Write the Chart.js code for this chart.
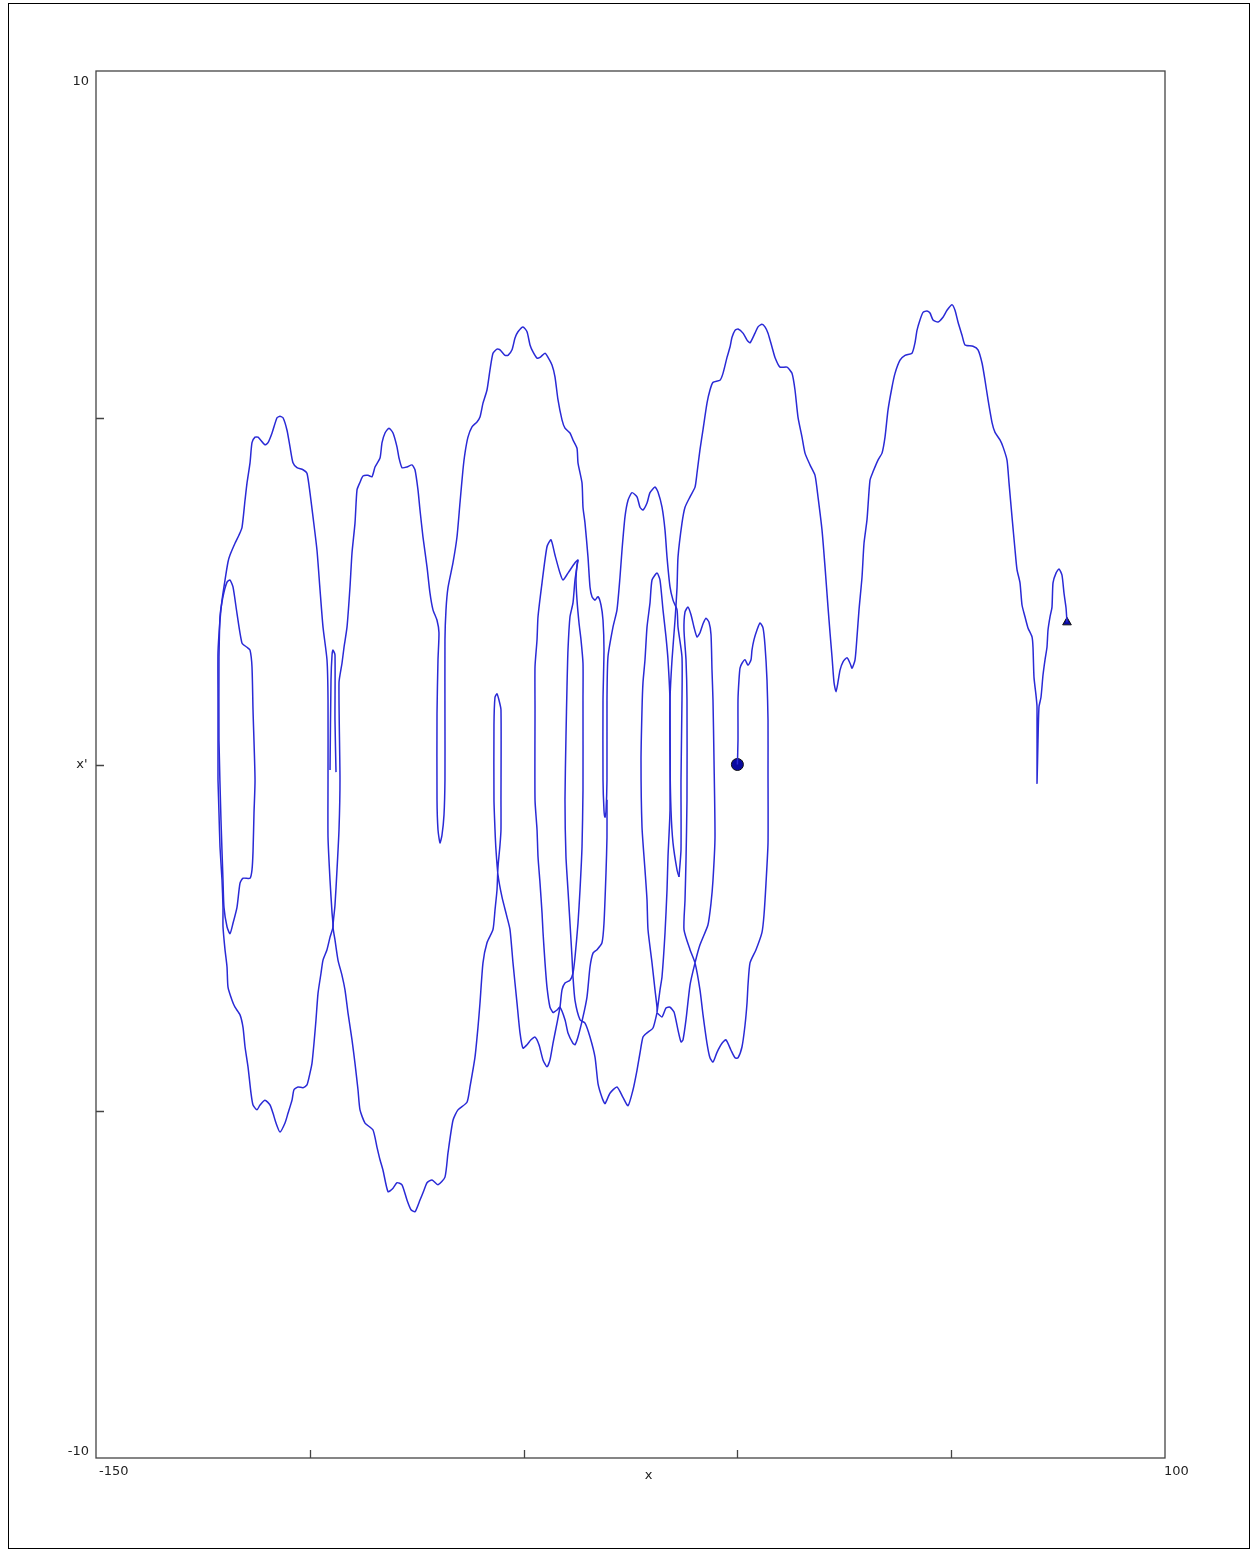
<!DOCTYPE html>
<html><head><meta charset="utf-8">
<script src="https://cdn.jsdelivr.net/npm/chart.js@4.4.0/dist/chart.umd.min.js"></script>
<style>html,body{margin:0;background:#fff}#wrap{width:1254px;height:1552px;position:relative}</style>
</head><body><div id="wrap"><canvas id="c"></canvas></div>
<script>
// trajectory pieces as [x, x'] pairs
const startLoop = [[0,0],[0.14,0.35],[0.14,0.93],[0.37,1.22],[0.61,1.39],[1.08,1.46],[1.78,1.51],[2.48,1.43],[3.18,1.51],[3.41,1.65],[3.88,1.8],[4.58,1.94],[5.29,2.04],[5.99,1.97],[6.45,1.72],[6.92,1.22],[7.16,0.64],[7.16,-0.08],[7.16,-1.13],[6.69,-1.71],[6.22,-2.17],[5.75,-2.42],[4.35,-2.67],[2.95,-2.86],[2.48,-3.18],[2.25,-3.44],[1.78,-3.76],[1.08,-4.07],[0.14,-4.23],[-0.56,-4.23],[-1.5,-4.12],[-2.67,-3.97],[-3.6,-4.02],[-4.77,-4.15],[-5.71,-4.29],[-6.41,-4.23],[-7.11,-4.02],[-8.04,-3.61],[-8.75,-3.25],[-9.91,-2.86],[-11.08,-2.67],[-12.49,-2.38],[-12.25,-1.95],[-12.02,-1.38],[-11.79,-0.51],[-11.79,0.93],[-12.02,1.51],[-12.49,1.94],[-12.25,2.2],[-11.55,2.27],[-10.85,2.16],[-10.15,1.98],[-9.45,1.84],[-8.75,1.9],[-8.04,2.03],[-7.34,2.11],[-6.64,2.05],[-6.17,1.87],[-5.94,1.36],[-5.71,0.93],[-5.47,0.06],[-5.24,-1.05],[-5.71,-1.67],[-6.17,-2.0],[-6.88,-2.31],[-8.75,-2.6],[-9.91,-2.86],[-11.08,-3.18],[-12.02,-3.68],[-12.72,-3.97],[-13.19,-4.0],[-13.89,-3.83],[-14.82,-3.57],[-15.76,-3.5],[-16.7,-3.51],[-17.63,-3.64],[-18.8,-3.58]];

const innerLoop = [[-18.8,-3.58],[-18.1,-3.25],[-17.63,-3.06],[-16.93,-2.43],[-16.46,-1.81],[-16.23,-1.33],[-15.76,-0.66],[-15.76,0.89],[-16.23,1.51],[-16.7,1.84],[-17.4,2.23],[-18.1,2.66],[-18.8,2.76],[-19.97,2.66],[-20.44,2.33],[-21.14,1.98],[-21.61,1.51],[-22.08,1.18],[-22.31,0.79],[-22.54,0.06],[-22.31,-0.9],[-21.61,-1.52],[-21.14,-1.95],[-20.91,-2.38],[-19.97,-2.86],[-19.27,-3.25],[-18.8,-3.5],[-18.8,-3.58]];

const lowerLoop = [[-37.28,2.95],[-37.98,2.66],[-38.45,2.33],[-39.15,2.13],[-39.62,1.65],[-39.85,1.12],[-40.09,0.4],[-40.32,-0.51],[-40.09,-1.33],[-39.62,-1.81],[-39.15,-2.29],[-38.68,-2.78],[-38.45,-3.06],[-37.98,-3.4],[-36.81,-3.68],[-35.64,-3.73],[-34.47,-3.93],[-33.3,-4.22],[-32.6,-4.6],[-31.67,-4.8],[-30.97,-4.89],[-29.8,-4.74],[-28.16,-4.65],[-26.76,-4.8],[-25.58,-4.92],[-24.41,-4.69],[-23.48,-4.41],[-22.78,-4.16],[-22.08,-3.93],[-21.14,-3.87],[-19.74,-3.8],[-18.8,-3.58]];

const lowerHook = [[-43.13,-3.58],[-42.19,-3.54],[-41.49,-3.5],[-40.32,-3.68],[-39.62,-3.87],[-38.45,-4.02],[-37.98,-4.04],[-37.28,-3.93],[-36.11,-3.64],[-35.17,-3.35],[-34.47,-2.92],[-33.77,-2.72],[-32.83,-2.67],[-31.67,-2.57],[-31.2,-2.29],[-30.73,-1.56],[-30.5,-1.05],[-30.5,-0.51]];

const rightArcs = [[-13.66,-1.62],[-14.12,-1.52],[-15.06,-1.13],[-15.53,-0.66],[-15.76,0.06],[-15.76,0.93],[-15.29,1.51],[-14.59,2.08],[-14.12,2.55],[-13.89,2.99],[-12.96,3.48],[-12.25,3.71],[-11.08,3.86],[-9.91,4.0],[-9.45,4.2],[-8.75,4.54],[-8.04,4.83],[-7.11,5.21],[-6.41,5.4],[-5.71,5.51],[-4.07,5.54],[-3.37,5.64],[-2.43,5.87],[-1.73,6.02],[-1.26,6.16],[-0.56,6.26],[0.14,6.28],[1.31,6.22],[2.25,6.12],[2.95,6.08],[4.12,6.22],[4.82,6.31],[5.75,6.35],[6.45,6.31],[7.16,6.22],[8.09,6.02],[8.79,5.87],[9.96,5.73],[11.6,5.73],[12.77,5.64],[13.47,5.4],[14.17,5.01],[15.11,4.72],[15.81,4.49],[16.98,4.32],[18.15,4.17],[18.85,3.86],[19.79,3.38],[20.49,2.85],[21.19,2.27],[21.66,1.9],[22.13,1.55],[22.6,1.18],[23.06,1.05],[23.53,1.19],[24.0,1.36],[24.7,1.48],[25.64,1.54],[26.34,1.46],[26.81,1.39],[27.51,1.51],[27.97,1.84],[28.44,2.23],[29.14,2.7],[29.61,3.19],[30.31,3.53],[31.01,4.1],[31.71,4.22],[32.88,4.39],[33.82,4.49],[34.52,4.72],[35.22,5.11],[36.15,5.44],[36.86,5.64],[38.03,5.83],[39.2,5.9],[40.83,5.93],[41.53,6.08],[42.0,6.26],[42.7,6.41],[43.41,6.52],[44.34,6.54],[45.04,6.51],[45.75,6.41],[46.92,6.38],[48.08,6.45],[49.02,6.55],[50.19,6.63],[50.89,6.55],[51.59,6.38],[52.53,6.19],[53.23,6.05],[55.1,6.03],[56.27,5.98],[57.21,5.79],[57.91,5.54],[58.61,5.26],[59.55,4.93],[60.25,4.79],[61.41,4.68],[62.12,4.58],[63.05,4.39],[63.52,4.06],[64.22,3.57],[64.92,3.1],[65.39,2.81],[66.09,2.62],[66.56,2.3],[67.26,2.13],[67.96,1.97],[68.9,1.84],[69.13,1.69],[69.36,1.26],[69.83,1.0],[70.07,0.83],[70.07,-0.27],[70.3,0.35],[70.53,0.83],[71.0,0.97],[71.47,1.29],[71.94,1.51],[72.4,1.69],[72.64,1.94],[73.11,2.13],[73.57,2.27],[73.81,2.62],[74.51,2.76],[75.21,2.82],[75.91,2.73],[76.38,2.47],[76.85,2.26],[77.08,2.05]];

const middleChain = [[-13.66,-1.62],[-13.19,-1.23],[-13.19,-0.22],[-12.96,0.93],[-12.96,1.55],[-13.89,1.98],[-14.12,2.23],[-15.06,2.37],[-15.76,2.56],[-16.46,2.99],[-16.93,3.38],[-17.63,3.71],[-18.57,3.93],[-19.27,4.0],[-20.44,3.92],[-21.14,3.77],[-22.08,3.67],[-22.78,3.71],[-23.48,3.86],[-24.65,3.92],[-25.58,3.81],[-26.29,3.57],[-26.99,3.09],[-27.46,2.7],[-28.16,2.23],[-29.1,1.98],[-30.27,1.55],[-30.5,0.93],[-30.5,-0.22],[-30.73,-0.68],[-30.97,-0.76],[-31.2,-0.66],[-31.43,-0.22],[-31.43,0.93],[-31.2,1.65],[-31.43,2.08],[-31.9,2.3],[-32.6,2.42],[-33.3,2.37],[-34.0,2.42],[-34.47,2.56],[-34.94,2.99],[-35.64,3.48],[-36.11,3.71],[-36.34,4.06],[-37.28,4.35],[-37.51,4.56],[-38.45,4.68],[-39.15,4.78],[-40.32,4.85],[-41.02,4.97],[-41.96,5.26],[-42.66,5.59],[-43.36,5.76],[-44.29,5.87],[-44.99,5.93],[-46.16,5.87],[-46.86,5.86],[-47.8,5.95],[-48.5,6.05],[-49.2,6.24],[-50.14,6.31],[-51.31,6.24],[-52.01,6.15],[-52.71,5.98],[-53.65,5.9],[-54.35,5.9],[-55.52,5.98],[-56.22,5.99],[-57.16,5.93],[-57.86,5.69],[-58.56,5.4],[-59.5,5.21],[-60.2,5.01],[-60.9,4.94],[-62.07,4.87],[-63.01,4.72],[-63.71,4.49],[-64.18,4.25],[-64.88,3.77],[-65.58,3.28],[-66.51,2.91],[-67.68,2.55],[-68.15,2.23],[-68.39,1.8],[-68.39,0.64],[-68.39,-0.22],[-68.62,-0.73],[-69.09,-1.02],[-69.56,-1.13],[-70.02,-0.94],[-70.25,-0.51],[-70.25,0.74],[-70.02,1.51],[-69.79,1.9],[-70.25,2.08],[-71.19,2.23],[-71.89,2.47],[-72.59,2.85],[-73.53,3.28],[-74.23,3.67],[-74.7,3.96],[-75.4,4.25],[-76.1,4.32],[-77.27,4.29],[-78.44,4.28],[-79.14,4.42],[-79.61,4.58],[-80.54,4.78],[-81.48,4.85],[-82.41,4.78],[-83.11,4.64],[-83.58,4.42],[-84.75,4.29],[-85.45,4.15],[-86.39,4.17],[-87.56,4.16],[-88.26,4.07],[-88.96,3.96],[-89.43,3.48],[-90.13,3.05],[-90.6,2.56],[-91.3,1.98],[-92.0,1.69],[-92.47,1.46],[-93.17,1.18],[-92.94,-0.22],[-93.17,-0.94],[-93.64,-1.52],[-94.11,-2.03],[-94.57,-2.34],[-94.11,-2.53],[-93.41,-2.82],[-92.47,-3.04],[-91.77,-3.25],[-91.07,-3.58],[-90.13,-3.97],[-89.43,-4.31],[-88.73,-4.69],[-88.26,-4.98],[-87.09,-5.17],[-85.22,-5.27],[-84.28,-5.52],[-83.58,-5.7],[-82.88,-5.85],[-81.71,-6.16],[-80.54,-6.11],[-79.61,-6.03],[-78.44,-6.06],[-77.27,-6.28],[-76.33,-6.42],[-75.4,-6.45],[-74.23,-6.28],[-73.3,-6.14],[-72.59,-6.03],[-71.42,-5.99],[-70.02,-6.06],[-68.39,-5.95],[-67.68,-5.6],[-66.51,-5.13],[-65.35,-4.98],[-63.24,-4.87],[-62.54,-4.65],[-61.37,-4.22],[-60.67,-3.79],[-60.2,-3.44],[-59.5,-2.86],[-58.56,-2.57],[-57.16,-2.38],[-56.69,-2.1],[-56.22,-1.81],[-55.99,-1.48],[-55.52,-1.16],[-55.29,-0.94],[-55.29,-0.51],[-55.29,0.79],[-55.76,0.93],[-56.22,1.02],[-56.69,0.97],[-56.93,0.57],[-56.93,-0.51],[-56.69,-0.94],[-56.46,-1.23],[-55.99,-1.59],[-55.06,-1.91],[-53.88,-2.2],[-53.18,-2.38],[-52.48,-2.86],[-51.54,-3.44],[-50.84,-3.87],[-50.14,-4.09],[-49.2,-4.04],[-48.27,-3.97],[-47.33,-3.93],[-46.4,-4.04],[-45.46,-4.26],[-44.53,-4.36],[-43.83,-4.26],[-43.13,-4.02],[-42.19,-3.73],[-41.49,-3.5],[-41.02,-3.25],[-40.32,-3.15],[-39.15,-3.11],[-38.45,-3.01],[-37.98,-2.78],[-37.28,-2.29],[-36.81,-1.81],[-36.34,-1.19],[-36.11,-0.37],[-36.11,0.93],[-36.11,1.46],[-36.58,1.8],[-37.04,2.04],[-37.51,2.37],[-37.74,2.66],[-37.51,2.88],[-37.28,2.95],[-37.98,2.91],[-39.62,2.76],[-40.79,2.66],[-41.49,2.76],[-42.66,3.02],[-43.59,3.24],[-44.53,3.14],[-45.69,2.62],[-46.63,2.13],[-46.86,1.8],[-47.33,1.41],[-47.33,0.79],[-47.33,-0.51],[-46.86,-0.94],[-46.63,-1.33],[-46.16,-1.71],[-45.69,-2.14],[-45.46,-2.42],[-44.99,-2.86],[-44.53,-3.21],[-43.83,-3.5],[-43.13,-3.58]];

const leftLoop = [[-121.47,-0.22],[-121.47,0.93],[-121.47,1.61],[-121.0,2.08],[-120.53,2.37],[-119.83,2.66],[-119.13,2.92],[-118.66,3.02],[-117.49,3.19],[-116.55,3.31],[-115.85,3.42],[-115.15,3.81],[-114.68,4.06],[-113.98,4.35],[-113.52,4.64],[-112.81,4.72],[-112.11,4.72],[-110.48,4.61],[-109.77,4.64],[-108.83,4.78],[-107.67,5.0],[-106.97,5.02],[-106.26,5.0],[-105.33,4.82],[-104.63,4.58],[-103.93,4.35],[-103.0,4.28],[-101.59,4.25],[-100.66,4.2],[-99.96,3.92],[-99.25,3.57],[-98.32,3.09],[-97.61,2.52],[-96.91,1.98],[-95.98,1.51],[-95.74,0.93],[-95.74,-0.22],[-95.74,-1.05],[-95.27,-1.67],[-94.8,-2.14],[-94.57,-2.34],[-95.27,-2.49],[-95.98,-2.67],[-96.91,-2.82],[-97.38,-3.01],[-98.08,-3.3],[-98.55,-3.68],[-99.02,-4.02],[-99.49,-4.31],[-99.96,-4.45],[-100.66,-4.62],[-101.59,-4.66],[-102.76,-4.65],[-103.7,-4.69],[-104.16,-4.84],[-105.1,-5.03],[-105.8,-5.17],[-106.97,-5.3],[-107.9,-5.17],[-108.6,-5.03],[-109.3,-4.91],[-110.48,-4.84],[-111.64,-4.91],[-112.35,-4.98],[-113.28,-4.91],[-113.75,-4.74],[-114.45,-4.36],[-115.15,-4.07],[-115.62,-3.79],[-116.32,-3.61],[-117.49,-3.5],[-118.19,-3.4],[-119.13,-3.21],[-119.36,-2.92],[-119.83,-2.67],[-120.3,-2.34],[-120.3,-2.06],[-120.53,-1.67],[-121.0,-1.19],[-121.24,-0.7],[-121.47,-0.22]];

const innerLeftLoop = [[-121.24,1.55],[-121.0,2.13],[-120.3,2.42],[-119.36,2.63],[-118.66,2.66],[-117.96,2.56],[-117.03,2.18],[-115.85,1.75],[-114.68,1.69],[-113.98,1.65],[-113.52,1.41],[-113.28,0.79],[-112.81,-0.22],[-113.05,-0.7],[-113.28,-1.26],[-113.52,-1.52],[-113.98,-1.64],[-115.62,-1.64],[-116.32,-1.71],[-117.03,-2.06],[-117.96,-2.29],[-118.66,-2.44],[-119.36,-2.34],[-120.07,-2.06],[-120.3,-1.67],[-120.77,-0.8],[-121.24,0.35],[-121.24,1.55]];

const leftSpike = [[-95.27,-0.08],[-95.04,1.22],[-94.8,1.58],[-94.57,1.65],[-94.11,1.58],[-94.11,0.64],[-93.87,-0.11]];

// axis ticks and labels
const xTicks = [-100, -50, 0, 50];
const yTicks = [-5, 0, 5];
const xTickLabels = ['-150', '100'];
const yTickLabels = ['10', '-10'];
const startPoint = [0, 0];
const endPoint = [77.08, 2.05];

const LINE = '#2a2ad6';
const toXY = arr => arr.map(p => ({x: p[0], y: p[1]}));
const path = arr => ({ data: toXY(arr), showLine: true, borderColor: LINE, borderWidth: 1.5, pointRadius: 0, tension: 0.2, fill: false });

const framePlugin = {
  id: 'frame',
  beforeDraw(chart) {
    const c = chart.ctx;
    c.save(); c.fillStyle = '#fff'; c.fillRect(0, 0, chart.width, chart.height); c.restore();
  },
  afterDraw(chart) {
    const c = chart.ctx, a = chart.chartArea, sx = chart.scales.x, sy = chart.scales.y;
    c.save();
    c.strokeStyle = '#000'; c.lineWidth = 1;
    c.strokeRect(8.5, 3.5, 1241, 1545);
    c.strokeStyle = '#444'; c.lineWidth = 1.3;
    c.strokeRect(a.left, a.top, a.right - a.left, a.bottom - a.top);
    c.beginPath();
    xTicks.forEach(v => { const px = Math.round(sx.getPixelForValue(v)) + 0.5; c.moveTo(px, a.bottom); c.lineTo(px, a.bottom - 8); });
    yTicks.forEach(v => { const py = Math.round(sy.getPixelForValue(v)) + 0.5; c.moveTo(a.left, py); c.lineTo(a.left + 8, py); });
    c.stroke();
    c.fillStyle = '#222'; c.font = '13px "DejaVu Sans", sans-serif';
    c.textBaseline = 'middle';
    c.textAlign = 'left';
    c.fillText(xTickLabels[0], a.left + 3, a.bottom + 14);
    c.fillText(xTickLabels[1], a.right - 1, a.bottom + 14);
    c.textAlign = 'right';
    c.fillText(yTickLabels[0], a.left - 7, a.top + 11);
    c.fillText(yTickLabels[1], a.left - 7, a.bottom - 6);
    c.textAlign = 'center';
    c.fillText('x', (a.left + a.right) / 2 + 18, a.bottom + 18);
    c.fillText("x'", a.left - 14, sy.getPixelForValue(0));
    c.restore();
  }
};

new Chart(document.getElementById('c'), {
  type: 'scatter',
  data: {
    datasets: [
      path(startLoop), path(innerLoop), path(lowerLoop), path(lowerHook), path(rightArcs), path(middleChain), path(leftLoop), path(innerLeftLoop), path(leftSpike),
      { data: [{x: startPoint[0], y: startPoint[1]}], pointStyle: 'circle', pointRadius: 6, backgroundColor: '#0a0aa0', borderColor: '#111', borderWidth: 1 },
      { data: [{x: endPoint[0], y: endPoint[1]}], pointStyle: 'triangle', pointRadius: 5, backgroundColor: '#0a0aa0', borderColor: '#111', borderWidth: 1 }
    ]
  },
  options: {
    responsive: true, maintainAspectRatio: false, animation: false, devicePixelRatio: 1,
    layout: { padding: { left: 96, right: 89, top: 71, bottom: 94 } },
    plugins: { legend: { display: false }, tooltip: { enabled: false } },
    scales: {
      x: { type: 'linear', min: -150, max: 100, display: false },
      y: { type: 'linear', min: -10, max: 10, display: false }
    }
  },
  plugins: [framePlugin]
});
</script></body></html>
